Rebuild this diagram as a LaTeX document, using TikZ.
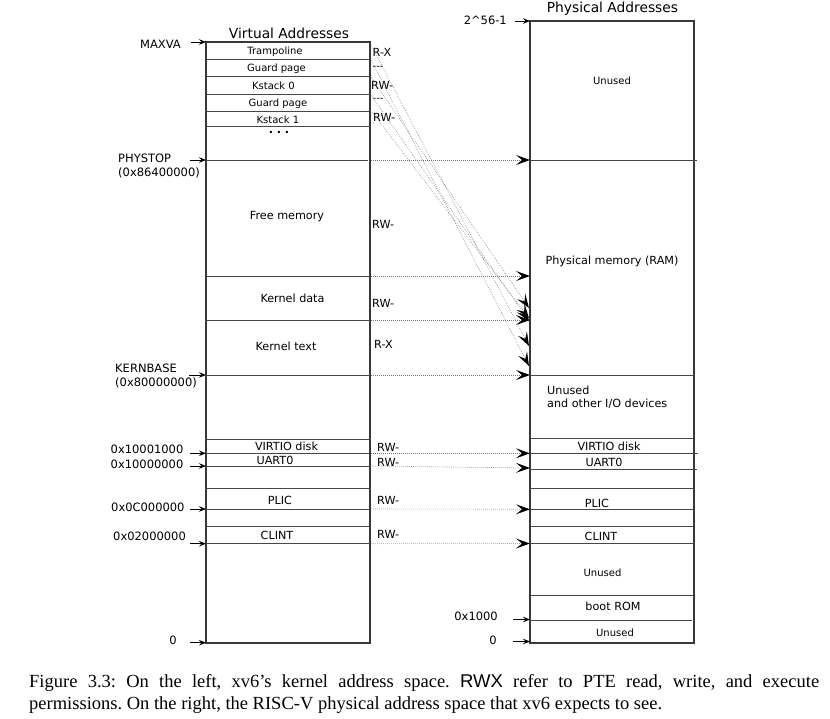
\documentclass[tikz,border=0pt]{standalone}
\usepackage{fontspec}
\setmainfont{Liberation Serif}
\newfontfamily\diagfont{DejaVu Sans}
\newfontfamily\capsans{Liberation Sans}
\usetikzlibrary{arrows.meta}
\begin{document}
\frenchspacing
\begin{tikzpicture}[x=1pt,y=-1pt,
	box/.style={draw=black!78,line width=1.1pt},
	sep/.style={draw=black!72,line width=0.8pt},
	lbl/.style={font=\diagfont\fontsize{11.2}{13}\selectfont,inner sep=0pt},
	addr/.style={font=\diagfont\fontsize{11.5}{13}\selectfont,inner sep=0pt},
	small/.style={font=\diagfont\fontsize{10}{12}\selectfont,inner sep=0pt},
	head/.style={font=\diagfont\fontsize{13.8}{16}\selectfont,inner sep=0pt},
	tick/.style={-{Stealth[length=7pt,width=5.5pt,inset=2.5pt]},line width=0.8pt,black},
	map/.style={draw=black!55,line width=0.6pt,dash pattern=on 0.6pt off 1.4pt,
		-{Stealth[length=14pt,width=10pt,inset=6pt,color=black,line width=0pt]}},
	captext/.style={font=\fontsize{18.5}{22}\selectfont,inner sep=0pt,anchor=base west}]
	\useasboundingbox (0,0) rectangle (830,718);
	% virtual side
	\node[head](vhead) at (289,33){Virtual Addresses};
	\draw[box] (206,42) rectangle (370,643);
	\draw[sep] (206,59)--(370,59);
	\draw[sep] (206,76.3)--(370,76.3);
	\draw[sep] (206,94.3)--(370,94.3);
	\draw[sep] (206,111.3)--(370,111.3);
	\draw[sep] (206,126.3)--(370,126.3);
	\draw[sep] (206,160)--(368,160);
	\draw[sep] (206,276)--(370,276);
	\draw[sep] (206,320)--(370,320);
	\draw[sep] (206,375)--(370,375);
	\draw[sep] (206,439.3)--(370,439.3);
	\draw[sep] (206,453.3)--(370,453.3);
	\draw[sep] (206,466)--(370,466);
	\draw[sep] (206,488.3)--(370,488.3);
	\draw[sep] (206,509)--(370,509);
	\draw[sep] (206,526.7)--(370,526.7);
	\draw[sep] (206,543.7)--(370,543.7);
	\node[small](tramp) at (275,52){Trampoline};
	\node[small](guard0) at (276.5,69){Guard page};
	\node[small](kstack0) at (273.5,86){Kstack 0};
	\node[small](guard1) at (278,103.5){Guard page};
	\node[small](kstack1) at (278,119.3){Kstack 1};
	\node[lbl](vdots) at (279,132){\textbf{.\,\,.\,\,.}};
	\node[lbl](freemem) at (287,216.5){Free memory};
	\node[lbl](kdata) at (292.5,298){Kernel data};
	\node[lbl](ktext) at (286,346.5){Kernel text};
	\node[lbl](vvirtio) at (286.5,446){VIRTIO disk};
	\node[lbl](vuart) at (275,460){UART0};
	\node[lbl](vplic) at (280,500){PLIC};
	\node[lbl](vclint) at (277,535){CLINT};
	% permissions
	\node[lbl,anchor=west](pTramp) at (372.5,52){R-X};
	\node[small,anchor=west](pGuard0) at (372.5,68){-{}-{}-};
	\node[lbl,anchor=west](pKstack0) at (371,85.5){RW-};
	\node[small,anchor=west](pGuard1) at (372.5,100){-{}-{}-};
	\node[lbl,anchor=west](pKstack1) at (373,117){RW-};
	\node[lbl,anchor=west](pFree) at (372,224){RW-};
	\node[lbl,anchor=west](pData) at (372,303){RW-};
	\node[lbl,anchor=west](pText) at (374,344){R-X};
	\node[lbl,anchor=west](pVirtio) at (377,447.3){RW-};
	\node[lbl,anchor=west](pUart) at (377,462.7){RW-};
	\node[lbl,anchor=west](pPlic) at (377,500){RW-};
	\node[lbl,anchor=west](pClint) at (377,534){RW-};
	% virtual addresses
	\node[addr,anchor=east](maxva) at (181,44){MAXVA};
	\node[addr,anchor=west](phystop) at (118,158){PHYSTOP};
	\node[addr,anchor=west](phystopval) at (118,172.7){(0x86400000)};
	\node[addr,anchor=west](kernbase) at (115,368){KERNBASE};
	\node[addr,anchor=west](kernbaseval) at (115,382.7){(0x80000000)};
	\node[addr,anchor=west](avirtio) at (110.5,449.3){0x10001000};
	\node[addr,anchor=west](auart) at (110.5,464.3){0x10000000};
	\node[addr,anchor=west](aplic) at (111,507.7){0x0C000000};
	\node[addr,anchor=west](aclint) at (113,536){0x02000000};
	\node[addr](azero) at (173,640.7){0};
	\coordinate (vMax) at (206,42);
	\coordinate (vPhystop) at (206,160);
	\coordinate (vKernbase) at (206,375);
	\coordinate (vVirtio) at (206,453.3);
	\coordinate (vUart) at (206,466);
	\coordinate (vPlic) at (206,509);
	\coordinate (vClint) at (206,543.7);
	\coordinate (vZero) at (206,642.7);
	\draw[tick] ([xshift=-15pt]vMax)--(vMax);
	\draw[tick] ([xshift=-16pt]vPhystop)--(vPhystop);
	\draw[tick] ([xshift=-17pt]vKernbase)--(vKernbase);
	\draw[tick] ([xshift=-16pt]vVirtio)--(vVirtio);
	\draw[tick] ([xshift=-16pt]vUart)--(vUart);
	\draw[tick] ([xshift=-16pt]vPlic)--(vPlic);
	\draw[tick] ([xshift=-16pt]vClint)--(vClint);
	\draw[tick] ([xshift=-16pt]vZero)--(vZero);
	% physical side
	\node[head](phead) at (612.5,9){Physical Addresses};
	\draw[box] (530,21) rectangle (694,643);
	\draw[sep] (530,160)--(697,160);
	\draw[sep] (530,375)--(694,375);
	\draw[sep] (530,438.7)--(694,438.7);
	\draw[sep] (530,453.3)--(698,453.3);
	\draw[sep] (530,469.3)--(697,469.3);
	\draw[sep] (530,488.3)--(694,488.3);
	\draw[sep] (530,509.3)--(694,509.3);
	\draw[sep] (530,526.7)--(694,526.7);
	\draw[sep] (530,543.3)--(694,543.3);
	\draw[sep] (530,595.3)--(694,595.3);
	\draw[sep] (530,620)--(692,620);
	\node[small](unusedtop) at (612,81){Unused};
	\node[lbl](ram) at (612,261.5){Physical memory (RAM)};
	\node[lbl,anchor=west,align=left](unusedio) at (547,397){Unused\\and other I/O devices};
	\node[lbl](pvirtio) at (609,446){VIRTIO disk};
	\node[lbl](puart) at (604,462.7){UART0};
	\node[lbl](pplic) at (597,503.5){PLIC};
	\node[lbl](pclint) at (601,536){CLINT};
	\node[small](unusedmid) at (602.5,572.7){Unused};
	\node[lbl](bootrom) at (613,606.7){boot ROM};
	\node[small](unusedlow) at (615,632.3){Unused};
	\node[addr,anchor=east](atop) at (507,20.7){2\textasciicircum 56-1};
	\node[addr,anchor=east](aboot) at (498,616.7){0x1000};
	\node[addr](pzero) at (493,640.7){0};
	\coordinate (pMax) at (530,21);
	\coordinate (pBoot) at (530,619.5);
	\coordinate (pZero) at (530,641.5);
	\draw[tick] ([xshift=-15pt]pMax)--(pMax);
	\draw[tick] ([xshift=-17pt]pBoot)--(pBoot);
	\draw[tick] ([xshift=-17pt]pZero)--(pZero);
	% mappings
	\coordinate (mPhystopV) at (371,160);
	\coordinate (mPhystopP) at (530,160);
	\coordinate (mDataV) at (371,276);
	\coordinate (mDataP) at (530,276);
	\coordinate (mTextV) at (371,320);
	\coordinate (mTextP) at (530,320);
	\coordinate (mBaseV) at (371,375);
	\coordinate (mBaseP) at (530,375);
	\coordinate (mVirtioV) at (371,453.3);
	\coordinate (mVirtioP) at (530,453.3);
	\coordinate (mUartV) at (371,466);
	\coordinate (mUartP) at (530,468);
	\coordinate (mPlicV) at (371,509);
	\coordinate (mPlicP) at (530,509.3);
	\coordinate (mClintV) at (371,543.7);
	\coordinate (mClintP) at (530,543.5);
	\draw[map] (mPhystopV)--(mPhystopP);
	\draw[map] (mDataV)--(mDataP);
	\draw[map] (mTextV)--(mTextP);
	\draw[map] (mBaseV)--(mBaseP);
	\draw[map] (mVirtioV)--(mVirtioP);
	\draw[map] (mUartV)--(mUartP);
	\draw[map] (mPlicV)--(mPlicP);
	\draw[map] (mClintV)--(mClintP);
	\coordinate (sTrampA) at (370,43);
	\coordinate (sTrampB) at (371,60);
	\coordinate (sStack0A) at (371,77);
	\coordinate (sStack0B) at (371,95);
	\coordinate (sStack1A) at (372,112);
	\coordinate (eTrampA) at (529,346);
	\coordinate (eTrampB) at (529,366);
	\coordinate (eStack0A) at (529,308);
	\coordinate (eStack0B) at (529,321);
	\coordinate (eStack1A) at (529,318);
	\draw[map] (sTrampA)--(eTrampA);
	\draw[map] (sTrampB)--(eTrampB);
	\draw[map] (sStack0A)--(eStack0A);
	\draw[map] (sStack0B)--(eStack0B);
	\draw[map] (sStack1A)--(eStack1A);
	% caption
	\node[captext](capA) at (29,687){\makebox[790pt][s]{Figure 3.3: On the left, xv6's kernel address space. {\capsans RWX} refer to PTE read, write, and execute}};
	\node[captext](capB) at (29,709){permissions. On the right, the RISC-V physical address space that xv6 expects to see.};
\end{tikzpicture}
\end{document}
